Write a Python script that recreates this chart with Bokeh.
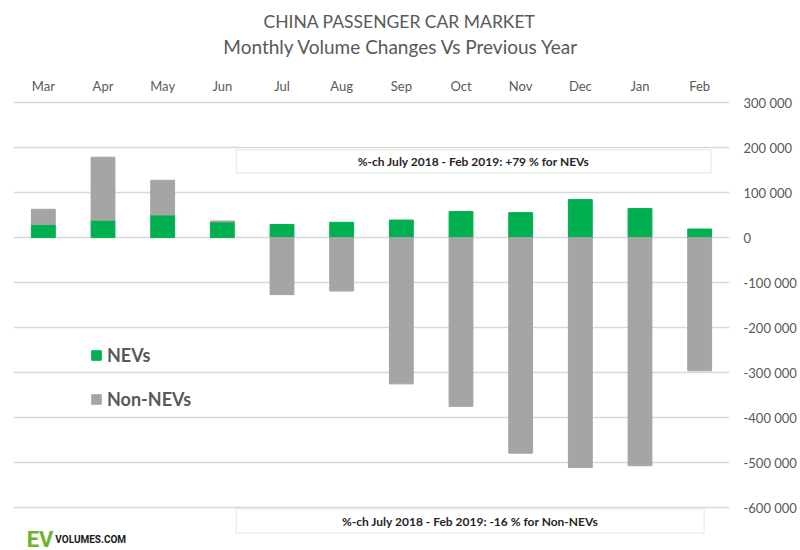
from bokeh.plotting import figure
from bokeh.models import (Range1d, FactorRange, ColumnDataSource, FixedTicker, Legend,
                          LegendItem, BoxAnnotation, Label)
from bokeh.core.properties import value
from bokeh.embed import file_html
from bokeh.resources import INLINE

# ---------------- data ----------------
months = ["Mar", "Apr", "May", "Jun", "Jul", "Aug", "Sep", "Oct", "Nov", "Dec", "Jan", "Feb"]
nev_change = [29000, 38700, 50400, 35000, 29000, 34000, 39000, 58000, 55500, 84500, 64500, 19000]
non_nev_change = [34000, 140000, 77000, 2000, -126700, -118700, -325000, -375000,
                  -479000, -511000, -507000, -296000]
y_ticks = [300000, 200000, 100000, 0, -100000, -200000, -300000, -400000, -500000, -600000]
title_line1 = "CHINA PASSENGER CAR MARKET"
title_line2 = "Monthly Volume Changes Vs Previous Year"
note_nev = "%-ch July 2018 - Feb 2019: +79 % for NEVs"
note_non_nev = "%-ch July 2018 - Feb 2019: -16 % for Non-NEVs"

# ---------------- styles / layout ----------------
FONT = "Lato"
GREEN = "#00b050"
GREY = "#a5a5a5"
TEXT = "#595959"
GRID = "#d9d9d9"
MONTH_LABEL_Y = 336400      # category labels sit above the 300 000 line

# stacking: positive non-NEV sits on top of NEV, negative hangs from zero
non_bottom = [n if v > 0 else 0 for n, v in zip(nev_change, non_nev_change)]
non_top = [n + v if v > 0 else v for n, v in zip(nev_change, non_nev_change)]

src = ColumnDataSource(dict(month=months, nev=nev_change, zero=[0] * len(months),
                            non_bottom=non_bottom, non_top=non_top,
                            label_y=[MONTH_LABEL_Y] * len(months)))

p = figure(width=800, height=550,
           x_range=FactorRange(*months), y_range=Range1d(-695300, 526900),
           output_backend="svg", toolbar_location=None,
           x_axis_location=None, y_axis_location="right",
           min_border_left=13, min_border_right=71, min_border_top=0, min_border_bottom=0,
           title=None)
p.outline_line_color = None
p.background_fill_color = "white"

r_nev = p.vbar(x="month", bottom="zero", top="nev", width=0.4, source=src,
               fill_color=GREEN, line_color=GREEN)
r_non = p.vbar(x="month", bottom="non_bottom", top="non_top", width=0.4, source=src,
               fill_color=GREY, line_color=GREY)

# category labels along the top
p.text(x="month", y="label_y", text="month", source=src, text_align="center",
       text_baseline="alphabetic", text_font=value(FONT), text_font_size="13px",
       text_color=TEXT)

# value axis on the right
ya = p.yaxis[0]
ya.ticker = FixedTicker(ticks=y_ticks)
ya.major_label_overrides = {t: f"{t:,}".replace(",", " ") for t in y_ticks}
ya.axis_line_color = None
ya.major_tick_line_color = None
ya.minor_tick_line_color = None
ya.major_label_text_font = FONT
ya.major_label_text_font_size = "13px"
ya.major_label_text_color = TEXT
ya.major_label_standoff = 8

p.xgrid.visible = False
p.ygrid.grid_line_color = GRID
p.ygrid.grid_line_width = 1.3

# titles (screen units, measured from the frame's bottom-left)
p.add_layout(Label(x=386, y=529, x_units="screen", y_units="screen", text=title_line1,
                   text_align="center", text_baseline="alphabetic", text_font=FONT,
                   text_font_size="17.5px", text_color=TEXT))
p.add_layout(Label(x=388, y=504, x_units="screen", y_units="screen", text=title_line2,
                   text_align="center", text_baseline="alphabetic", text_font=FONT,
                   text_font_size="19px", text_color=TEXT))

# note boxes
top_box = dict(left=3.735, right=11.69, top=195100, bottom=144000)
bot_box = dict(left=3.735, right=11.575, top=-602700, bottom=-656900)
p.add_layout(BoxAnnotation(**top_box, fill_color="white", fill_alpha=1,
                           line_color="#9be09b", line_width=1.5, level="glyph"))
p.add_layout(BoxAnnotation(**bot_box, fill_color="white", fill_alpha=1,
                           line_color="#c8c8c8", line_width=1.5, level="glyph"))
p.add_layout(Label(x=(top_box["left"] + top_box["right"]) / 2,
                   y=(top_box["top"] + top_box["bottom"]) / 2,
                   text=note_nev, text_align="center", text_baseline="middle",
                   text_font=FONT, text_font_size="12px", text_font_style="bold",
                   text_color="#262626"))
p.add_layout(Label(x=(bot_box["left"] + bot_box["right"]) / 2,
                   y=(bot_box["top"] + bot_box["bottom"]) / 2,
                   text=note_non_nev, text_align="center", text_baseline="middle",
                   text_font=FONT, text_font_size="12px", text_font_style="bold",
                   text_color="#262626"))

# logo
p.add_layout(Label(x=0.22, y=-671000, text="EV", text_align="left", text_baseline="alphabetic",
                   text_font="Roboto", text_font_size="22px",
                   text_font_style="bold", text_color="#6ab42d"))
p.add_layout(Label(x=0.70, y=-671000, text="VOLUMES.COM", text_align="left",
                   text_baseline="alphabetic", text_font="Roboto",
                   text_font_size="10px", text_font_style="bold", text_color="#1a1a1a"))

# legend
legend = Legend(items=[LegendItem(label="NEVs", renderers=[r_nev]),
                       LegendItem(label="Non-NEVs", renderers=[r_non])],
                location=(77, 139), orientation="vertical",
                glyph_width=12, glyph_height=12, label_height=24, spacing=20,
                label_standoff=5, padding=0, margin=0,
                label_text_font=FONT, label_text_font_size="18px",
                label_text_font_style="bold", label_text_color=TEXT,
                border_line_color=None, background_fill_alpha=0)
p.add_layout(legend)

open("out.html", "w").write(file_html(p, INLINE))
